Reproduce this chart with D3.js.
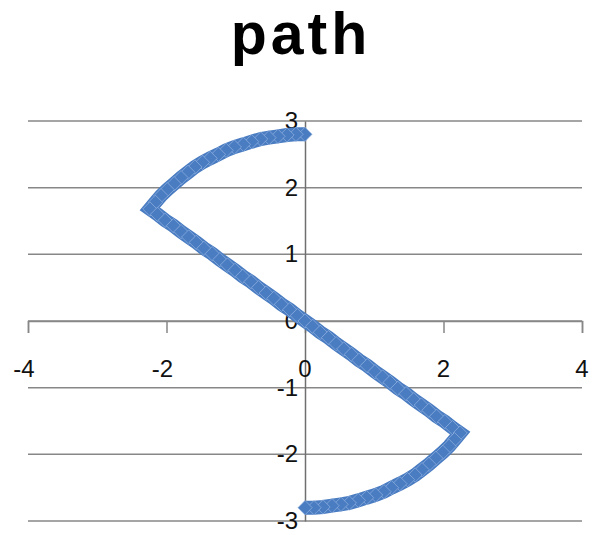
<!DOCTYPE html>
<html>
<head>
<meta charset="utf-8">
<script src="https://cdn.jsdelivr.net/npm/d3@7"></script>
<style>
  html, body { margin: 0; padding: 0; background: #fff; }
  svg { display: block; }
</style>
</head>
<body>
<svg id="chart" width="592" height="535"></svg>
<script>
// Series: an S-shaped path (upper arc, diagonal through the origin, lower arc)
const pathX = [
  0.00, -0.13, -0.26, -0.39, -0.52, -0.64, -0.77, -0.89, -1.02, -1.14,
  -1.25, -1.37, -1.48, -1.59, -1.69, -1.79, -1.89, -1.99, -2.08, -2.16,
  -2.24,
  -2.13, -2.02, -1.90, -1.79, -1.68, -1.57, -1.46, -1.34, -1.23, -1.12,
  -1.01, -0.90, -0.78, -0.67, -0.56, -0.45, -0.34, -0.22, -0.11, 0.00,
  0.11, 0.22, 0.34, 0.45, 0.56, 0.67, 0.78, 0.90, 1.01, 1.12,
  1.23, 1.34, 1.46, 1.57, 1.68, 1.79, 1.90, 2.02, 2.13, 2.24,
  2.16, 2.08, 1.99, 1.89, 1.79, 1.69, 1.59, 1.48, 1.37, 1.25,
  1.14, 1.02, 0.89, 0.77, 0.64, 0.52, 0.39, 0.26, 0.13, 0.00
];
const pathY = [
  2.80, 2.80, 2.79, 2.77, 2.75, 2.73, 2.69, 2.65, 2.61, 2.56,
  2.50, 2.44, 2.38, 2.31, 2.23, 2.15, 2.06, 1.97, 1.88, 1.78,
  1.68,
  1.60, 1.51, 1.43, 1.34, 1.26, 1.18, 1.09, 1.01, 0.92, 0.84,
  0.76, 0.67, 0.59, 0.50, 0.42, 0.34, 0.25, 0.17, 0.08, 0.00,
  -0.08, -0.17, -0.25, -0.34, -0.42, -0.50, -0.59, -0.67, -0.76, -0.84,
  -0.92, -1.01, -1.09, -1.18, -1.26, -1.34, -1.43, -1.51, -1.60, -1.68,
  -1.78, -1.88, -1.97, -2.06, -2.15, -2.23, -2.31, -2.38, -2.44, -2.50,
  -2.56, -2.61, -2.65, -2.69, -2.73, -2.75, -2.77, -2.79, -2.80, -2.80
];
const xTicks = [-4, -2, 0, 2, 4];
const yTicks = [-3, -2, -1, 0, 1, 2, 3];
const chartTitle = "path";

const points = pathX.map((x, i) => ({ x, y: pathY[i] }));

const svg = d3.select("#chart");
const x = d3.scaleLinear().domain([-4, 4]).range([28, 582]);
const y = d3.scaleLinear().domain([-3, 3]).range([521, 121]);

const gridColor = "#878787";
const labelFont = "'Liberation Sans', Arial, sans-serif";

// Title
svg.append("text")
  .attr("x", 301).attr("y", 54)
  .attr("text-anchor", "middle")
  .attr("font-family", labelFont)
  .attr("font-weight", "bold")
  .attr("font-size", 59)
  .attr("letter-spacing", 4)
  .attr("fill", "#000")
  .text(chartTitle);

// Horizontal gridlines
svg.append("g").selectAll("line")
  .data(yTicks)
  .join("line")
  .attr("x1", x(-4)).attr("x2", x(4))
  .attr("y1", d => y(d)).attr("y2", d => y(d))
  .attr("stroke", gridColor)
  .attr("stroke-width", 1.5);

// Horizontal axis through y = 0 with downward ticks
const xAxis = d3.axisBottom(x)
  .tickValues(xTicks)
  .tickSize(12)
  .tickFormat("");
const gx = svg.append("g")
  .attr("transform", `translate(0,${y(0)})`)
  .call(xAxis);
gx.select(".domain").attr("stroke", gridColor).attr("stroke-width", 1.5);
gx.selectAll(".tick line").attr("stroke", gridColor).attr("stroke-width", 1.5);

// Vertical axis through x = 0
const yAxis = d3.axisLeft(y).tickValues(yTicks).tickSize(0).tickFormat("");
const gy = svg.append("g")
  .attr("transform", `translate(${x(0)},0)`)
  .call(yAxis);
gy.select(".domain").attr("stroke", "#6f6f6f").attr("stroke-width", 1.5);

// Tick labels
svg.append("g").selectAll("text")
  .data(xTicks)
  .join("text")
  .attr("x", d => x(d) - (d < 0 ? 4 : 0))
  .attr("y", 377)
  .attr("text-anchor", "middle")
  .attr("font-family", labelFont)
  .attr("font-size", 24)
  .attr("fill", "#111")
  .text(d => d);

svg.append("g").selectAll("text")
  .data(yTicks)
  .join("text")
  .attr("x", x(0) - 7)
  .attr("y", d => y(d) + 8)
  .attr("text-anchor", "end")
  .attr("font-family", labelFont)
  .attr("font-size", 24)
  .attr("fill", "#111")
  .text(d => d);

// Series line and diamond markers
const line = d3.line().x(d => x(d.x)).y(d => y(d.y));
svg.append("path")
  .datum(points)
  .attr("d", line)
  .attr("fill", "none")
  .attr("stroke", "#4a7cc2")
  .attr("stroke-width", 14)
  .attr("stroke-linejoin", "miter");

const diamond = d3.symbol().type(d3.symbolDiamond2).size(130);
svg.append("g").selectAll("path")
  .data(points)
  .join("path")
  .attr("transform", d => `translate(${x(d.x)},${y(d.y)})`)
  .attr("d", diamond)
  .attr("fill", "#4a7cc2")
  .attr("stroke", "#9fbce6")
  .attr("stroke-width", 1)
  .attr("stroke-opacity", 0.6);
</script>
</body>
</html>
